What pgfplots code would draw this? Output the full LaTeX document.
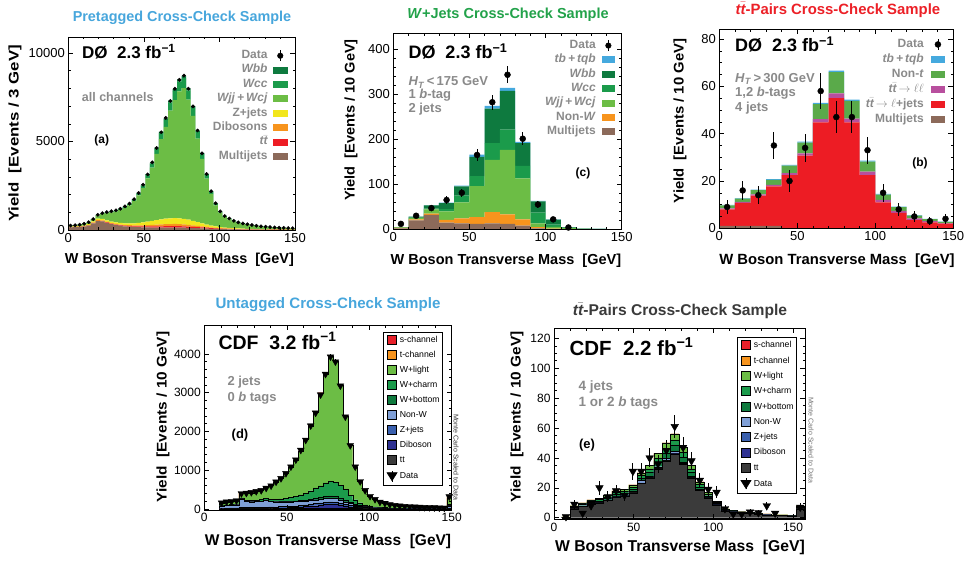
\documentclass[border=0pt]{standalone}
\usepackage{pgfplots}
\pgfplotsset{compat=1.18}
\usepackage{pgfplotstable}
\usepackage{graphicx}
\usepackage{fontspec}
\setmainfont{Liberation Sans}
\newcommand\fs[1]{\fontsize{#1}{#1}\selectfont}
\newcommand\ttb{t$\bar{\mbox{t}}$}
% DZero colours
\definecolor{dwbb}{HTML}{0E7A3F}
\definecolor{dwcc}{HTML}{1B9B4B}
\definecolor{dwjj}{HTML}{6CBD45}
\definecolor{dz}{HTML}{F2E61C}
\definecolor{dvv}{HTML}{F7941D}
\definecolor{dtt}{HTML}{ED1C24}
\definecolor{dmj}{HTML}{8C6A5A}
\definecolor{dtb}{HTML}{45A9DE}
\definecolor{dnont}{HTML}{5AAA4A}
\definecolor{dttll}{HTML}{B84F9E}
\definecolor{lgray}{HTML}{8A8A8A}
% CDF colours
\definecolor{cs}{HTML}{E8202A}
\definecolor{ct}{HTML}{F7941D}
\definecolor{cwl}{HTML}{6CBD45}
\definecolor{cwc}{HTML}{1B9B4B}
\definecolor{cwb}{HTML}{0F7A3E}
\definecolor{cnw}{HTML}{7F9FD6}
\definecolor{cz}{HTML}{3A60AE}
\definecolor{cvv}{HTML}{2E3192}
\definecolor{ctt}{HTML}{3B3B3B}
% titles
\definecolor{tA}{HTML}{47A6DC}
\definecolor{tC}{HTML}{22A24A}
\definecolor{tB}{HTML}{EC2027}
\definecolor{tE}{HTML}{3A3A3A}

\pgfplotsset{
 frame/.style={scale only axis, anchor=south west, axis on top, tick align=inside,
   major tick length=5pt, minor tick length=2.5pt,
   every tick/.append style={line width=0.5pt, black},
   axis line style={line width=0.6pt},
   /pgf/number format/assume math mode=true, /pgf/number format/1000 sep={},
   scaled ticks=false},
 stk/.style={frame, stack plots=y, const plot},
 ovl/.style={scale only axis, anchor=south west, hide axis, clip=false},
 dleg/.style={legend cell align=right, legend plot pos=right, reverse legend,
   legend style={anchor=north east, draw=none, fill=none, inner sep=0pt, outer sep=0pt,
     font=\fs{12}\bfseries, text=lgray, row sep=2pt,
     nodes={inner sep=0pt, text height=9pt, text depth=3.4pt}}},
 cleg/.style={legend cell align=left, reverse legend,
   legend style={anchor=north east, draw=black, line width=0.6pt, fill=white, inner sep=3pt,
     font=\fs{8.7}, text=black, row sep=5.3pt,
     nodes={inner sep=0pt, text height=7.5pt, text depth=2.2pt}}},
}

% ---------------- panel (a) ----------------
\pgfplotstableread{
x MJ tt VV Z Wjj Wcc Wbb
0 150 10 5 20 59 5 1
3 160 10 6 22 66 5 1
6 170 12 7 25 79 6 1
9 190 15 8 30 98 7 2
12 250 18 12 45 96 7 2
15 380 20 20 70 119 9 2
18 500 22 30 90 190 15 3
21 480 25 35 95 279 21 5
24 400 25 35 90 411 32 7
27 330 25 35 85 526 40 9
30 280 28 35 85 615 47 10
33 240 30 38 90 734 56 12
36 210 32 40 95 863 66 14
39 190 35 45 105 1011 77 17
42 170 38 50 120 1255 96 21
45 160 42 58 140 1555 119 26
48 150 48 66 165 1941 148 32
51 145 55 75 195 2452 188 40
54 140 60 85 230 3006 230 49
57 140 65 95 260 3743 286 61
60 140 70 105 290 4525 346 74
63 140 75 112 310 5182 396 85
66 140 78 118 325 6074 465 100
69 140 80 120 330 6661 510 109
72 135 80 118 325 7175 549 118
75 130 78 112 310 7384 565 121
78 120 75 100 285 6790 519 111
81 110 70 85 250 5934 454 97
84 100 62 70 210 4720 361 77
87 90 55 55 170 3641 279 60
90 80 48 45 135 2600 199 43
93 70 40 35 105 1784 137 29
96 60 34 28 80 1188 91 19
99 50 28 22 62 813 62 13
102 45 24 18 50 607 46 10
105 40 20 15 42 488 37 8
108 35 18 12 35 385 29 6
111 30 15 10 30 316 24 5
114 28 13 9 26 269 21 4
117 25 11 8 22 232 18 4
120 22 10 7 20 203 15 3
123 20 9 6 18 171 13 3
126 18 8 5 16 150 11 2
129 16 7 5 14 131 10 2
132 14 6 4 12 118 9 2
135 12 5 4 11 103 8 2
138 11 5 3 10 92 7 2
141 10 4 3 9 86 7 1
144 9 4 3 8 79 6 1
147 8 3 2 7 73 6 1
150 8 3 2 7 73 6 1
}\ta
\pgfplotstableread{
x y
1.5 250
4.5 270
7.5 300
10.5 350
13.5 440
16.5 610
19.5 860
22.5 950
25.5 1010
28.5 1060
31.5 1110
34.5 1200
37.5 1330
40.5 1490
43.5 1740
46.5 2090
49.5 2560
52.5 3140
55.5 3820
58.5 4630
61.5 5520
64.5 6330
67.5 7290
70.5 7980
73.5 8480
76.5 8720
79.5 7980
82.5 6980
85.5 5620
88.5 4330
91.5 3160
94.5 2190
97.5 1510
100.5 1050
103.5 790
106.5 650
109.5 520
112.5 430
115.5 370
118.5 320
121.5 280
124.5 240
127.5 210
130.5 185
133.5 165
136.5 145
139.5 130
142.5 120
145.5 110
148.5 100
}\da

% ---------------- panel (c) ----------------
\pgfplotstableread{
x MJ NW Wjj Wcc Wbb tb
0 2 1 1 0.5 0.5 0
10 20 2 3 1 2 0.3
20 32 3 9 2 7 0.5
30 15 6 19 5 13 1
40 13 11 36 15 20 2
50 12 15 69 22 43 5
60 13 25 116 37 77 6
70 12 21 143 45 86 7
80 8 14 91 28 50 3
90 2 3 8 24 25 1
100 0.5 1 4 5 11 0.5
110 0 0.5 2 1 1.5 0
120 0.2 0.3 0.5 0.2 0.3 0
130 0.1 0.2 0.3 0.1 0.1 0
140 0.1 0.1 0.2 0.1 0.1 0
150 0.1 0.1 0.2 0.1 0.1 0
}\tc
\pgfplotstableread{
x y e
5 12 3.5
15 30 5.5
25 47 6.9
35 65 8
45 81 9
55 165 12.8
65 282 16.8
75 343 18.5
85 201 14.2
95 55 7.4
105 22 4.7
115 4 2
}\dc

% ---------------- panel (b) ----------------
\pgfplotstableread{
x MJ lj ll nont tb
0 1 7 0.4 1.3 0.2
10 1 9.7 0.5 1.3 0.2
20 1 12.8 0.5 1.8 0.2
30 1 16.7 0.6 2.2 0.3
40 0.2 22.3 0.8 3.2 0.3
50 0 30.7 1 4.5 0.4
60 0 44.8 1.3 6.4 0.5
70 0 55 2 9 0.6
80 0 44.8 1.6 7.5 0.5
90 0 22.5 1.5 4.2 0.4
100 0 11 1 2.2 0.3
110 0 6.5 0.9 1.6 0.2
120 0 3.5 0.7 1.2 0.2
130 0 2.5 0.5 0.9 0.1
140 0 2 0.2 0.5 0.1
150 0 2 0.2 0.5 0.1
}\tb
\pgfplotstableread{
x y e
5 9 3
15 16 4
25 14 3.7
35 35 5.9
45 20 4.5
55 34 5.8
65 58 7.6
75 47 6.9
85 47 6.9
95 33 5.7
105 15 3.9
115 8 2.8
125 5 2.2
135 3 1.7
145 4 2
}\db

% ---------------- panel (d) ----------------
\pgfplotstableread{
x tt VV Z NW Wb Wc Wl t s
9 2 5 15 60 2 8 58 0 0
12 2 6 17 70 3 10 67 0 0
15 3 6 18 75 3 11 74 0 0
18 3 7 20 80 3 12 84 1 0
21 4 8 22 230 6 20 139 1 0
24 4 8 22 160 6 22 177 1 0
27 5 9 24 150 6 25 200 1 0
30 5 10 26 150 7 28 233 1 0
33 6 11 28 160 7 32 245 1 0
36 6 12 30 180 8 38 284 2 0
39 7 14 32 140 9 45 361 2 0
42 8 16 34 130 10 55 435 2 0
45 9 19 36 120 12 68 534 2 0
48 10 22 38 115 14 82 645 3 1
51 11 26 40 110 16 100 773 3 1
54 12 31 42 105 19 120 927 3 1
57 13 37 45 100 23 145 1132 4 1
60 15 45 48 95 27 180 1384 5 1
63 17 55 52 95 32 220 1673 5 1
66 19 65 56 95 38 270 1950 6 1
69 21 78 60 95 45 300 2393 7 1
72 22 90 62 95 53 350 2819 8 1
75 23 100 64 95 59 380 3219 9 1
78 22 95 60 90 57 370 3117 8 1
81 20 80 54 80 48 320 2590 7 1
84 17 60 45 65 36 280 1891 5 1
87 14 40 35 50 25 190 1291 4 1
90 11 26 26 40 16 120 838 3 0
93 9 17 20 30 11 75 556 2 0
96 7 12 15 22 7 45 381 1 0
99 6 9 12 16 5 30 261 1 0
102 5 7 9 12 4 20 192 1 0
105 4 5 7 10 3 15 146 0 0
108 4 4 6 8 2 11 115 0 0
111 3 3 5 7 2 9 91 0 0
114 3 3 4 6 2 7 75 0 0
117 3 2 3 5 1 6 65 0 0
120 2 2 3 5 1 5 57 0 0
123 2 2 3 4 1 4 49 0 0
126 2 2 2 4 1 4 42 0 0
129 2 1 2 4 1 3 37 0 0
132 2 1 2 3 1 3 33 0 0
135 1 1 2 3 1 3 29 0 0
138 1 1 2 3 1 2 25 0 0
141 1 1 1 3 0 2 24 0 0
144 1 1 1 3 0 2 20 0 0
147 3 8 10 60 5 25 189 0 0
150 3 8 10 60 5 25 189 0 0
}\td
\pgfplotstableread{
x y e
10.5 160 12.6
13.5 185 13.6
16.5 195 14
19.5 215 14.7
22.5 400 20
25.5 410 20
28.5 430 20.7
31.5 455 21.3
34.5 480 21.9
37.5 540 23.2
40.5 600 24.5
43.5 700 26.5
46.5 790 28.1
49.5 920 30.3
52.5 1090 33
55.5 1270 35.6
58.5 1520 39
61.5 1780 42.2
64.5 2150 46.4
67.5 2480 49.8
70.5 2950 54.3
73.5 3480 59
76.5 3930 62.7
79.5 3800 61.6
82.5 3180 56.4
85.5 2380 48.8
88.5 1640 40.5
91.5 1090 33
94.5 710 26.6
97.5 480 21.9
100.5 330 18.2
103.5 250 15.8
106.5 180 13.4
109.5 150 12.2
112.5 115 10.7
115.5 95 9.7
118.5 85 9.2
121.5 70 8.4
124.5 65 8.1
127.5 55 7.4
130.5 50 7.1
133.5 45 6.7
136.5 40 6.3
139.5 35 5.9
142.5 30 5.5
145.5 28 5.3
148.5 320 17.9
}\dd

% ---------------- panel (e) ----------------
\pgfplotstableread{
x tt VV Z NW Wb Wc Wl t s
4.875 0.4 0 0 0 0.05 0.05 0 0 0
10.125 6 0.1 0.1 0.2 0.5 0.5 0.6 0 0
15.375 7.6 0.1 0.1 0.2 0.7 0.6 0.7 0 0
20.625 9.1 0.1 0.2 0.3 0.8 0.7 0.8 0 0
25.875 9.9 0.1 0.2 0.3 0.8 0.8 0.9 0 0
31.125 11.4 0.1 0.2 0.3 1 1 1 0 0
36.375 13.7 0.1 0.2 0.4 1.2 1.2 1.2 0 0
41.625 14.4 0.1 0.2 0.4 1.3 1.3 1.3 0 0
46.875 16.7 0.1 0.3 0.4 1.5 1.5 1.5 0 0
52.125 22.8 0.2 0.3 1.6 1.7 1.7 1.7 0 0
57.375 26.6 0.2 0.3 0.7 2.4 2.4 2.4 0 0
62.625 32.7 0.2 0.3 0.9 3 2.9 3 0 0
67.875 38 0.2 0.4 1 3.4 3.5 3.5 0 0
73.125 42.6 0.2 0.4 1.1 3.9 3.9 3.9 0 0
78.375 35.7 0.2 0.3 0.9 3.3 3.3 3.3 0 0
83.625 26.6 0.2 0.3 0.7 2.4 2.4 2.4 0 0
88.875 18.2 0.1 0.2 0.5 1.7 1.6 1.7 0 0
94.125 12.9 0.1 0.2 0.3 1.2 1.1 1.2 0 0
99.375 8.4 0.1 0.1 0.2 0.7 0.7 0.8 0 0
104.625 4.6 0 0.1 0.1 0.4 0.4 0.4 0 0
109.875 3.8 0 0.1 0.1 0.3 0.3 0.4 0 0
115.125 3 0 0.1 0.1 0.3 0.2 0.3 0 0
120.375 2.7 0 0 0.1 0.2 0.2 0.3 0 0
125.625 2.3 0 0 0.1 0.2 0.2 0.2 0 0
130.875 1.9 0 0 0.1 0.2 0.1 0.2 0 0
136.125 1.5 0 0 0.1 0.1 0.1 0.2 0 0
141.375 1.5 0 0 0.1 0.1 0.1 0.2 0 0
146.625 1.1 0 0 0.1 0.1 0.1 0.1 0 0
151.875 6 0.1 0.1 0.2 0.5 0.5 0.6 0 0
157.125 6 0.1 0.1 0.2 0.5 0.5 0.6 0 0
}\te
\pgfplotstableread{
x y e
7.5 0.7 0.8
12.75 9 3
18 3 1.7
23.25 8 2.8
28.5 20 4.5
33.75 14 3.7
39 18 4.2
44.25 15 3.9
49.5 31 5.6
54.75 31 5.6
60 40 6.3
65.25 36 6
70.5 45 6.7
75.75 61 7.8
81 47 6.9
86.25 38 6.2
91.5 25 5
96.75 19 4.4
102 17 4.1
107.25 6 2.4
112.5 2.5 1.6
117.75 2.5 1.6
123 3.8 1.9
128.25 3.3 1.8
133.5 8 2.8
138.75 3 1.7
154.5 7 2.6
}\de

\begin{document}
\begin{tikzpicture}[x=1pt,y=1pt]
\path[use as bounding box] (0,0) rectangle (968,560);

% ===== (a) =====
\begin{axis}[stk, dleg, at={(68.3pt,330pt)}, width=226.7pt, height=193pt,
  xmin=0, xmax=150, ymin=0, ymax=10900,
  xtick={0,50,100,150}, ytick={0,5000,10000}, minor x tick num=4, minor y tick num=4,
  tick label style={font=\fs{13}},
  xlabel={W Boson Transverse Mass~~[GeV]},
  xlabel style={font=\fs{14.4}\bfseries, at={(axis description cs:0.49,-0.155)}, anchor=center},
  ylabel={\scalebox{1.2}[1]{Yield~~[Events / 3 GeV]}},
  ylabel style={font=\fs{14}\bfseries, at={(axis description cs:-0.235,0.5)}, anchor=center},
  legend style={at={(axis description cs:0.969,0.935)}},
  legend image code/.code={\path (0pt,0pt); \fill[#1] (5pt,-3.5pt) rectangle (20pt,3.5pt);}]
\addplot[fill=dmj, draw=none] table[x=x,y=MJ]{\ta} \closedcycle; \addlegendentry{Multijets}
\addplot[fill=dtt, draw=none] table[x=x,y=tt]{\ta} \closedcycle; \addlegendentry{\textit{\ttb}}
\addplot[fill=dvv, draw=none] table[x=x,y=VV]{\ta} \closedcycle; \addlegendentry{Dibosons}
\addplot[fill=dz, draw=none] table[x=x,y=Z]{\ta} \closedcycle; \addlegendentry{Z+jets}
\addplot[fill=dwjj, draw=none] table[x=x,y=Wjj]{\ta} \closedcycle; \addlegendentry{\textit{Wjj\,+\,Wcj}}
\addplot[fill=dwcc, draw=none] table[x=x,y=Wcc]{\ta} \closedcycle; \addlegendentry{\textit{Wcc}}
\addplot[fill=dwbb, draw=none] table[x=x,y=Wbb]{\ta} \closedcycle; \addlegendentry{\textit{Wbb}}
\addlegendimage{legend image code/.code={\path (0pt,0pt) (20pt,0pt); \fill[black] (12.5pt,0pt) circle (2.8pt); \draw[black, line width=0.8pt] (12.5pt,-5.5pt)--(12.5pt,5.5pt);}}
\addlegendentry{Data}
\end{axis}
\begin{axis}[ovl, at={(68.3pt,330pt)}, width=226.7pt, height=193pt, xmin=0, xmax=150, ymin=0, ymax=10900]
\addplot[only marks, mark=*, mark size=1.7pt, black] table[x=x,y=y]{\da};
\end{axis}

% ===== (c) =====
\begin{axis}[stk, dleg, at={(393.3pt,330.7pt)}, width=228.4pt, height=196pt,
  xmin=0, xmax=150, ymin=0, ymax=435,
  xtick={0,50,100,150}, ytick={0,100,200,300,400}, minor x tick num=4, minor y tick num=4,
  tick label style={font=\fs{13}},
  xlabel={W Boson Transverse Mass~~[GeV]},
  xlabel style={font=\fs{14.5}\bfseries, at={(axis description cs:0.493,-0.162)}, anchor=center},
  ylabel={\scalebox{1.04}[1]{Yield~~[Events / 10 GeV]}},
  ylabel style={font=\fs{14}\bfseries, at={(axis description cs:-0.185,0.558)}, anchor=center},
  legend style={at={(axis description cs:0.971,0.969)}},
  legend image code/.code={\path (0pt,0pt); \fill[#1] (6pt,-3.5pt) rectangle (19pt,3.5pt);}]
\addplot[fill=dmj, draw=none] table[x=x,y=MJ]{\tc} \closedcycle; \addlegendentry{Multijets}
\addplot[fill=dvv, draw=none] table[x=x,y=NW]{\tc} \closedcycle; \addlegendentry{Non-\textit{W}}
\addplot[fill=dwjj, draw=none] table[x=x,y=Wjj]{\tc} \closedcycle; \addlegendentry{\textit{Wjj\,+\,Wcj}}
\addplot[fill=dwcc, draw=none] table[x=x,y=Wcc]{\tc} \closedcycle; \addlegendentry{\textit{Wcc}}
\addplot[fill=dwbb, draw=none] table[x=x,y=Wbb]{\tc} \closedcycle; \addlegendentry{\textit{Wbb}}
\addplot[fill=dtb, draw=none] table[x=x,y=tb]{\tc} \closedcycle; \addlegendentry{\textit{tb\,+\,tqb}}
\addlegendimage{legend image code/.code={\path (0pt,0pt) (19pt,0pt); \fill[black] (12.5pt,0pt) circle (2.8pt); \draw[black, line width=0.8pt] (12.5pt,-5.5pt)--(12.5pt,5.5pt);}}
\addlegendentry{Data}
\end{axis}
\begin{axis}[ovl, at={(393.3pt,330.7pt)}, width=228.4pt, height=196pt, xmin=0, xmax=150, ymin=0, ymax=435]
\addplot[only marks, mark=*, mark size=3pt, black, error bars/.cd, y dir=both, y explicit, error mark=none, error bar style={line width=1pt, black}] table[x=x,y=y,y error=e]{\dc};
\end{axis}

% ===== (b) =====
\begin{axis}[stk, dleg, at={(719.3pt,331.7pt)}, width=234pt, height=199pt,
  xmin=0, xmax=150, ymin=0, ymax=84.1,
  xtick={0,50,100,150}, ytick={0,20,40,60,80}, minor x tick num=4, minor y tick num=3,
  tick label style={font=\fs{13}},
  xlabel={W Boson Transverse Mass~~[GeV]},
  xlabel style={font=\fs{14.8}\bfseries, at={(axis description cs:0.503,-0.164)}, anchor=center},
  ylabel={\scalebox{1.06}[1]{Yield~~[Events / 10 GeV]}},
  ylabel style={font=\fs{14}\bfseries, at={(axis description cs:-0.168,0.539)}, anchor=center},
  legend style={at={(axis description cs:0.965,0.955)}, row sep=2.6pt},
  legend image code/.code={\path (0pt,0pt); \fill[#1] (7pt,-3.8pt) rectangle (21pt,3.8pt);}]
\addplot[fill=dmj, draw=none] table[x=x,y=MJ]{\tb} \closedcycle; \addlegendentry{Multijets}
\addplot[fill=dtt, draw=none] table[x=x,y=lj]{\tb} \closedcycle; \addlegendentry{\textit{\ttb}\,$\rightarrow\ell$+jets}
\addplot[fill=dttll, draw=none] table[x=x,y=ll]{\tb} \closedcycle; \addlegendentry{\textit{\ttb}\,$\rightarrow\ell\ell$}
\addplot[fill=dnont, draw=none] table[x=x,y=nont]{\tb} \closedcycle; \addlegendentry{Non-\textit{t}}
\addplot[fill=dtb, draw=none] table[x=x,y=tb]{\tb} \closedcycle; \addlegendentry{\textit{tb\,+\,tqb}}
\addlegendimage{legend image code/.code={\path (0pt,0pt) (21pt,0pt); \fill[black] (14pt,0pt) circle (3pt); \draw[black, line width=0.8pt] (14pt,-5.5pt)--(14pt,5.5pt);}}
\addlegendentry{Data}
\end{axis}
\begin{axis}[ovl, at={(719.3pt,331.7pt)}, width=234pt, height=199pt, xmin=0, xmax=150, ymin=0, ymax=84.1]
\addplot[only marks, mark=*, mark size=3pt, black, error bars/.cd, y dir=both, y explicit, error mark=none, error bar style={line width=1pt, black}] table[x=x,y=y,y error=e]{\db};
\end{axis}

% ===== (d) =====
\begin{axis}[stk, cleg, at={(204.3pt,50pt)}, width=247.4pt, height=185pt,
  xmin=0, xmax=150, ymin=-26, ymax=4748,
  xtick={0,50,100,150}, ytick={0,1000,2000,3000,4000}, minor x tick num=4, minor y tick num=4,
  tick label style={font=\fs{12}},
  xlabel={W Boson Transverse Mass~~[GeV]},
  xlabel style={font=\fs{15.5}\bfseries, at={(axis description cs:0.5,-0.168)}, anchor=center},
  ylabel={\scalebox{1.1}[1]{Yield~~[Events / 10 GeV]}},
  ylabel style={font=\fs{14}\bfseries, at={(axis description cs:-0.167,0.503)}, anchor=center},
  legend style={at={(axis description cs:0.965,0.962)}},
  legend image code/.code={\path (0pt,0pt) (12pt,0pt); \draw[#1, draw=black, line width=0.5pt] (0pt,-4.5pt) rectangle (9pt,4.5pt);}]
\addlegendimage{legend image code/.code={\path (0pt,0pt) (12pt,0pt); \draw[line width=0.8pt] (4.5pt,-5.5pt)--(4.5pt,5.5pt); \fill (-0.5pt,3.5pt)--(9.5pt,3.5pt)--(4.5pt,-4.5pt)--cycle;}}
\addlegendentry{Data}
\addplot[fill=ctt, draw=black, line width=0.4pt] table[x=x,y=tt]{\td} \closedcycle; \addlegendentry{tt}
\addplot[fill=cvv, draw=black, line width=0.4pt] table[x=x,y=VV]{\td} \closedcycle; \addlegendentry{Diboson}
\addplot[fill=cz, draw=black, line width=0.4pt] table[x=x,y=Z]{\td} \closedcycle; \addlegendentry{Z+jets}
\addplot[fill=cnw, draw=black, line width=0.4pt] table[x=x,y=NW]{\td} \closedcycle; \addlegendentry{Non-W}
\addplot[fill=cwb, draw=black, line width=0.4pt] table[x=x,y=Wb]{\td} \closedcycle; \addlegendentry{W+bottom}
\addplot[fill=cwc, draw=black, line width=0.4pt] table[x=x,y=Wc]{\td} \closedcycle; \addlegendentry{W+charm}
\addplot[fill=cwl, draw=black, line width=0.4pt] table[x=x,y=Wl]{\td} \closedcycle; \addlegendentry{W+light}
\addplot[fill=ct, draw=black, line width=0.4pt] table[x=x,y=t]{\td} \closedcycle; \addlegendentry{t-channel}
\addplot[fill=cs, draw=black, line width=0.4pt] table[x=x,y=s]{\td} \closedcycle; \addlegendentry{s-channel}
\end{axis}
\begin{axis}[ovl, at={(204.3pt,50pt)}, width=247.4pt, height=185pt, xmin=0, xmax=150, ymin=-26, ymax=4748]
\addplot[only marks, mark=triangle*, mark options={rotate=180}, mark size=3.9pt, black, error bars/.cd, y dir=both, y explicit, error mark=none, error bar style={line width=0.8pt, black}] table[x=x,y=y,y error=e]{\dd};
\end{axis}

% ===== (e) =====
\begin{axis}[stk, cleg, at={(554pt,40.7pt)}, width=251pt, height=191pt,
  xmin=0, xmax=157.5, ymin=-1.07, ymax=126.7,
  xtick={0,50,100,150}, ytick={0,20,40,60,80,100,120}, minor x tick num=4, minor y tick num=3,
  tick label style={font=\fs{12}},
  xlabel={W Boson Transverse Mass~~[GeV]},
  xlabel style={font=\fs{15.7}\bfseries, at={(axis description cs:0.502,-0.148)}, anchor=center},
  ylabel={\scalebox{1.1}[1]{Yield~~[Events / 10 GeV]}},
  ylabel style={font=\fs{14}\bfseries, at={(axis description cs:-0.147,0.537)}, anchor=center},
  legend style={at={(axis description cs:0.968,0.954)}, row sep=5.6pt},
  legend image code/.code={\path (0pt,0pt) (12pt,0pt); \draw[#1, draw=black, line width=0.5pt] (0pt,-4.5pt) rectangle (9pt,4.5pt);}]
\addlegendimage{legend image code/.code={\path (0pt,0pt) (12pt,0pt); \draw[line width=0.8pt] (4.5pt,-5.5pt)--(4.5pt,5.5pt); \fill (-0.5pt,3.5pt)--(9.5pt,3.5pt)--(4.5pt,-4.5pt)--cycle;}}
\addlegendentry{Data}
\addplot[fill=ctt, draw=black, line width=0.4pt] table[x=x,y=tt]{\te} \closedcycle; \addlegendentry{tt}
\addplot[fill=cvv, draw=black, line width=0.4pt] table[x=x,y=VV]{\te} \closedcycle; \addlegendentry{Diboson}
\addplot[fill=cz, draw=black, line width=0.4pt] table[x=x,y=Z]{\te} \closedcycle; \addlegendentry{Z+jets}
\addplot[fill=cnw, draw=black, line width=0.4pt] table[x=x,y=NW]{\te} \closedcycle; \addlegendentry{Non-W}
\addplot[fill=cwb, draw=black, line width=0.4pt] table[x=x,y=Wb]{\te} \closedcycle; \addlegendentry{W+bottom}
\addplot[fill=cwc, draw=black, line width=0.4pt] table[x=x,y=Wc]{\te} \closedcycle; \addlegendentry{W+charm}
\addplot[fill=cwl, draw=black, line width=0.4pt] table[x=x,y=Wl]{\te} \closedcycle; \addlegendentry{W+light}
\addplot[fill=ct, draw=black, line width=0.4pt] table[x=x,y=t]{\te} \closedcycle; \addlegendentry{t-channel}
\addplot[fill=cs, draw=black, line width=0.4pt] table[x=x,y=s]{\te} \closedcycle; \addlegendentry{s-channel}
\end{axis}
\begin{axis}[ovl, at={(554pt,40.7pt)}, width=251pt, height=191pt, xmin=0, xmax=157.5, ymin=-1.07, ymax=126.7]
\addplot[only marks, mark=triangle*, mark options={rotate=180}, mark size=4.4pt, black, error bars/.cd, y dir=both, y explicit, error mark=none, error bar style={line width=0.8pt, black}] table[x=x,y=y,y error=e]{\de};
\end{axis}

% ===== titles and annotations =====
\node[font=\fs{14.4}\bfseries, text=tA] at (182,542) {Pretagged Cross-Check Sample};
\node[font=\fs{14.5}\bfseries, text=tC] at (508,545) {\textit{W}+Jets Cross-Check Sample};
\node[font=\fs{14.9}\bfseries, text=tB] at (838,550) {\textit{\ttb}-Pairs Cross-Check Sample};
\node[font=\fs{15.1}\bfseries, text=tA] at (328,255) {Untagged Cross-Check Sample};
\node[font=\fs{15.6}\bfseries, text=tE] at (680,249) {\textit{\ttb}-Pairs Cross-Check Sample};

\node[anchor=base west, font=\fs{17}\bfseries, inner sep=0] at (82,501.7) {D\O{}~~2.3 fb\textsuperscript{−1}};
\node[anchor=base west, font=\fs{18}\bfseries, inner sep=0] at (408.3,501.7) {D\O{}~~2.3 fb\textsuperscript{−1}};
\node[anchor=base west, font=\fs{18}\bfseries, inner sep=0] at (735,508.3) {D\O{}~~2.3 fb\textsuperscript{−1}};
\node[anchor=base west, font=\fs{19.5}\bfseries, inner sep=0] at (218.3,210.7) {CDF~~3.2 fb\textsuperscript{−1}};
\node[anchor=base west, font=\fs{20.5}\bfseries, inner sep=0] at (569.3,205) {CDF~~2.2 fb\textsuperscript{−1}};

\node[anchor=base west, font=\fs{12.5}\bfseries, text=lgray, inner sep=0] at (81.7,458.3) {all channels};
\node[anchor=base, font=\fs{12}\bfseries, inner sep=0] at (101.7,416) {(a)};

\node[anchor=base west, font=\fs{13}\bfseries, text=lgray, inner sep=0] at (408.3,474) {\textit{H}\textsubscript{\textit{T}}\,<\,175 GeV};
\node[anchor=base west, font=\fs{13}\bfseries, text=lgray, inner sep=0] at (408.3,461) {1 \textit{b}-tag};
\node[anchor=base west, font=\fs{13}\bfseries, text=lgray, inner sep=0] at (408.3,447.7) {2 jets};
\node[anchor=base, font=\fs{12}\bfseries, inner sep=0] at (583,383.3) {(c)};

\node[anchor=base west, font=\fs{13}\bfseries, text=lgray, inner sep=0] at (735,477.3) {\textit{H}\textsubscript{\textit{T}}\,>\,300 GeV};
\node[anchor=base west, font=\fs{13}\bfseries, text=lgray, inner sep=0] at (735,463.3) {1,2 \textit{b}-tags};
\node[anchor=base west, font=\fs{13}\bfseries, text=lgray, inner sep=0] at (735,448.3) {4 jets};
\node[anchor=base, font=\fs{12}\bfseries, inner sep=0] at (920,393.3) {(b)};

\node[anchor=base west, font=\fs{13}\bfseries, text=lgray, inner sep=0] at (227.3,175) {2 jets};
\node[anchor=base west, font=\fs{13}\bfseries, text=lgray, inner sep=0] at (227.3,159) {0 \textit{b} tags};
\node[anchor=base, font=\fs{13}\bfseries, inner sep=0] at (240,121.7) {(d)};
\node[font=\fs{7}, text=tE, rotate=-90] at (456,103) {Monte Carlo Scaled to Data};

\node[anchor=base west, font=\fs{13.5}\bfseries, text=lgray, inner sep=0] at (578.3,170) {4 jets};
\node[anchor=base west, font=\fs{13.5}\bfseries, text=lgray, inner sep=0] at (578.3,154) {1 or 2 \textit{b} tags};
\node[anchor=base, font=\fs{13}\bfseries, inner sep=0] at (587,111.7) {(e)};
\node[font=\fs{7}, text=tE!70, rotate=-90] at (811,120) {Monte Carlo Scaled to Data};
\end{tikzpicture}
\end{document}
